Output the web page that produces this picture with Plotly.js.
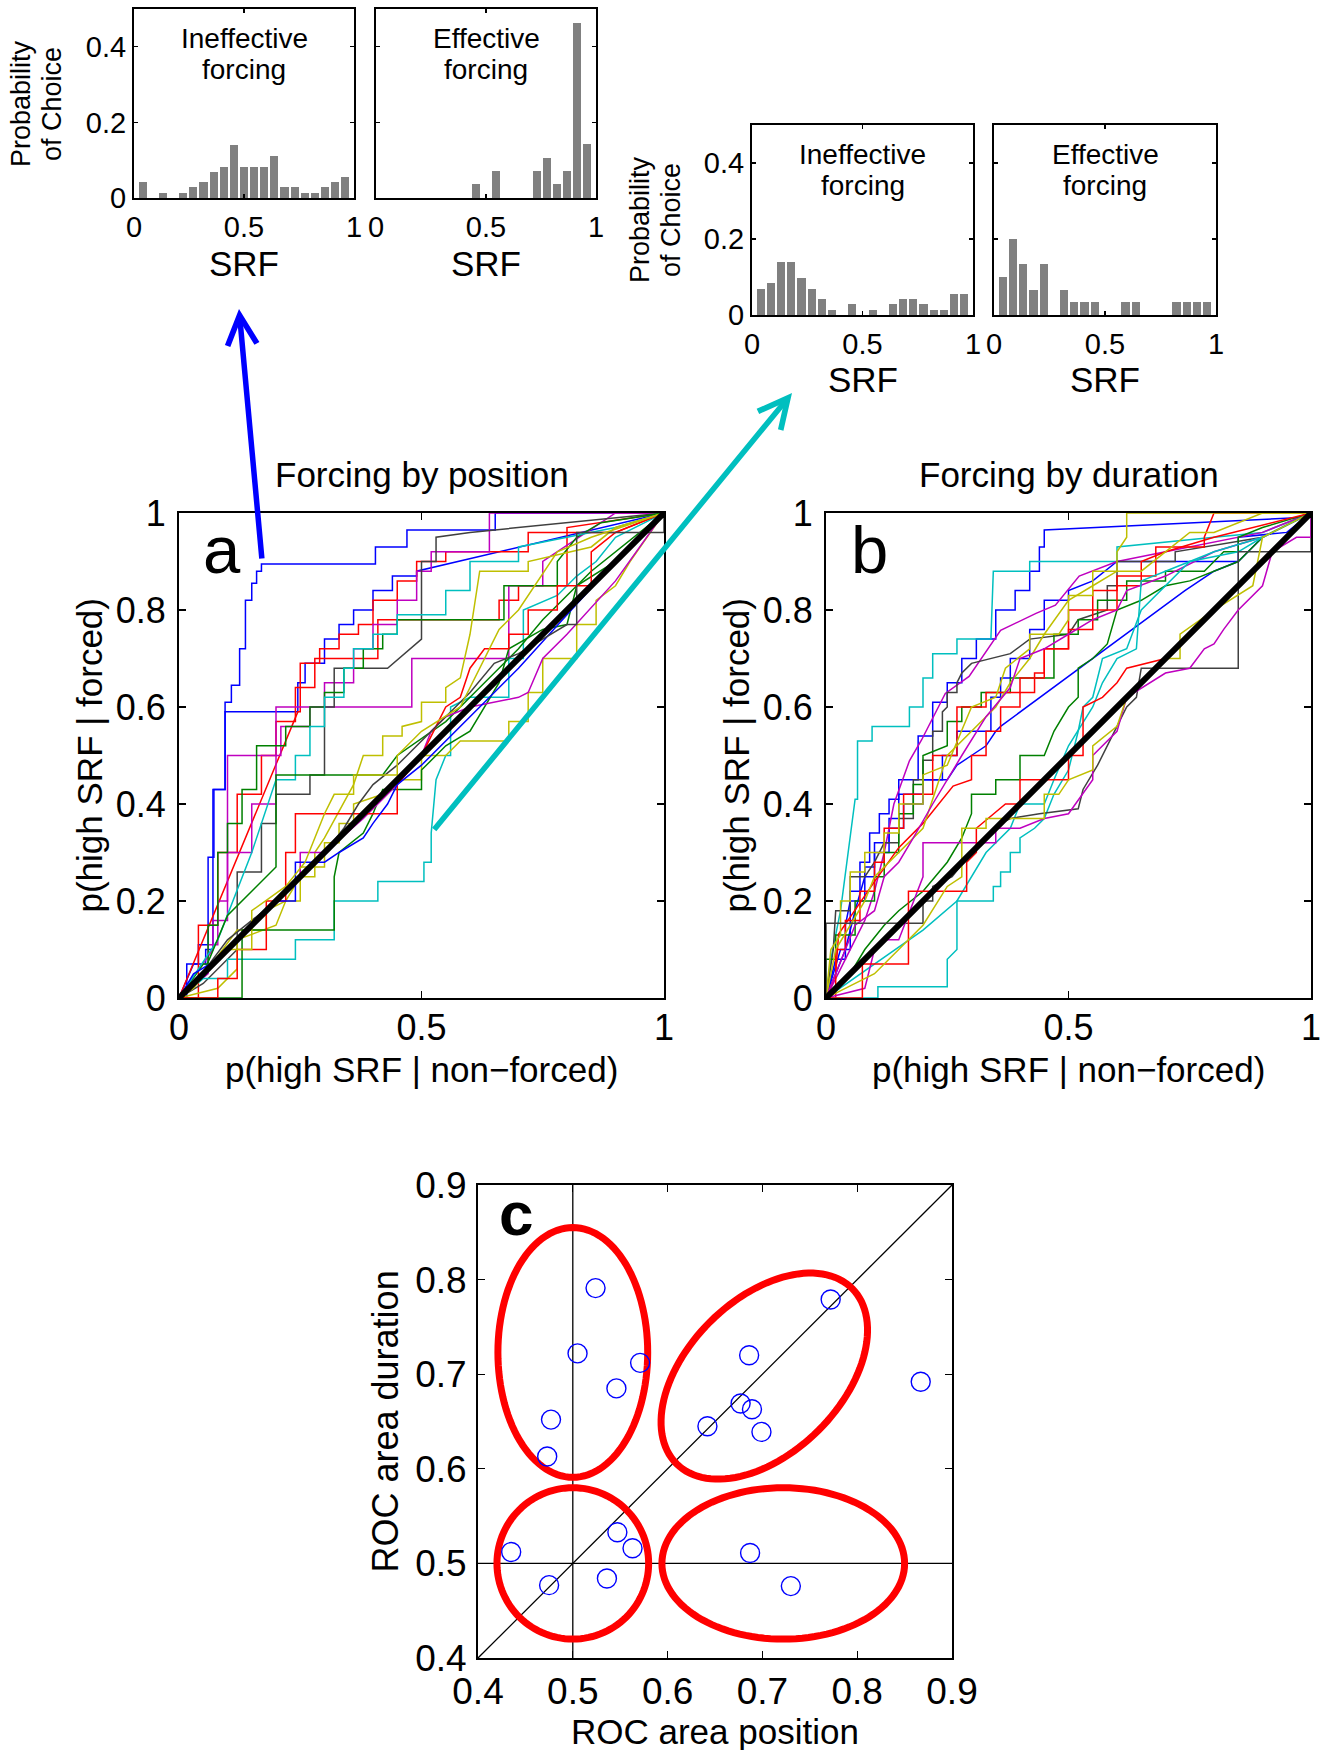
<!DOCTYPE html>
<html><head><meta charset="utf-8">
<script src="https://cdn.plot.ly/plotly-3.0.1.min.js"></script>
<style>html,body{margin:0;padding:0;background:#fff;}#fig{width:1321px;height:1750px;}</style>
</head><body><div id="fig"></div>
<script>
// ---------------- DATA ----------------
// histogram bin centres (SRF)
const binCenters = [0.040,0.086,0.132,0.178,0.224,0.270,0.316,0.362,0.408,0.454,0.500,0.546,0.592,0.638,0.684,0.730,0.776,0.822,0.868,0.914,0.960];
// probability of choice per bin
const posIneffective = [0.042,0,0.014,0,0.014,0.028,0.042,0.069,0.083,0.139,0.083,0.083,0.083,0.111,0.028,0.028,0.014,0.014,0.028,0.042,0.056];
const posEffective   = [0,0,0,0,0,0,0,0,0,0.036,0,0.071,0,0,0,0.071,0.107,0.036,0.071,0.464,0.143];
const durIneffective = [0.069,0.083,0.139,0.139,0.097,0.069,0.042,0.014,0,0.028,0,0.014,0,0.028,0.042,0.042,0.028,0.014,0.014,0.056,0.056];
const durEffective   = [0.100,0.200,0.133,0.067,0.133,0,0.067,0.033,0.033,0.033,0,0,0.033,0.033,0,0,0,0.033,0.033,0.033,0.033];
const histXTicks = [0,0.5,1], histXText = ['0','0.5','1'];
const histYTicks = [0,0.2,0.4], histYText = ['0','0.2','0.4'];

// ROC curves, forcing by position (flat x,y pairs)
const posCurves = [
 [0,0,0.016,0,0.016,0.07,0.04,0.07,0.04,0.11,0.06,0.11,0.06,0.29,0.072,0.29,0.072,0.43,0.095,0.43,0.095,0.61,0.108,0.61,0.108,0.645,0.125,0.645,0.125,0.72,0.137,0.72,0.137,0.82,0.15,0.82,0.15,0.855,0.16,0.855,0.16,0.88,0.17,0.88,0.17,0.895,0.405,0.895,0.405,0.93,0.47,0.93,0.47,0.965,0.652,0.965,0.652,1,1,1],
 [0,0,0.03,0.07,0.055,0.07,0.055,0.1,0.07,0.1,0.07,0.43,0.095,0.43,0.095,0.59,0.245,0.59,0.245,0.65,0.26,0.65,0.26,0.69,0.3,0.69,0.3,0.74,0.33,0.74,0.33,0.77,0.36,0.77,0.36,0.8,0.4,0.8,0.4,0.84,0.44,0.84,0.44,0.87,0.49,0.87,0.49,0.88,1,1],
 [0,0,0.245,0.59,0.25,0.59,0.25,0.69,0.29,0.69,0.29,0.72,0.33,0.72,0.33,0.75,0.37,0.75,0.37,0.77,0.4,0.77,0.4,0.82,0.45,0.82,0.45,0.86,0.49,0.86,0.49,0.9,0.55,0.9,0.55,0.92,0.72,0.92,0.72,0.96,0.9,0.96,1,1],
 [0,0,0.04,0,0.04,0.15,0.08,0.15,0.08,0.3,0.12,0.3,0.12,0.42,0.17,0.42,0.17,0.5,0.2,0.5,0.2,0.57,0.24,0.57,0.24,0.64,0.28,0.64,0.28,0.7,0.41,0.7,0.41,0.78,0.66,0.78,0.66,0.82,0.7,0.82,0.7,0.85,0.8,0.85,0.8,0.97,1,1],
 [0,0,0.06,0.05,0.06,0.11,0.08,0.11,0.08,0.2,0.1,0.2,0.1,0.5,0.2,0.5,0.2,0.6,0.48,0.6,0.48,0.7,0.68,0.7,0.68,0.85,0.75,0.85,0.75,0.9,0.9,1,1,1],
 [0,0,0.07,0.1,0.07,0.16,0.1,0.16,0.1,0.3,0.15,0.3,0.15,0.4,0.2,0.4,0.2,0.5,0.21,0.5,0.21,0.56,0.27,0.56,0.27,0.6,0.3,0.6,0.3,0.65,0.36,0.65,0.36,0.72,0.4,0.72,0.4,0.77,0.45,0.77,0.45,0.82,0.49,0.82,0.49,0.88,0.52,0.88,0.52,0.92,0.64,0.92,0.64,1,1,1],
 [0,0,0.05,0.03,0.12,0.1,0.12,0.26,0.17,0.26,0.17,0.36,0.2,0.36,0.2,0.42,0.27,0.42,0.27,0.46,0.3,0.46,0.3,0.6,0.32,0.6,0.32,0.68,0.43,0.68,0.5,0.74,0.5,0.9,0.53,0.9,0.53,0.95,0.6,0.96,1,1],
 [0,0,0.05,0.07,0.06,0.07,0.06,0.15,0.08,0.15,0.08,0.3,0.1,0.3,0.1,0.36,0.13,0.36,0.13,0.43,0.16,0.43,0.16,0.52,0.22,0.52,0.22,0.56,0.27,0.56,0.27,0.6,0.3,0.6,0.3,0.63,0.34,0.63,0.34,0.68,0.38,0.68,0.38,0.72,0.42,0.72,0.42,0.75,0.45,0.75,0.45,0.78,0.67,0.78,0.67,0.85,0.78,0.85,0.78,0.9,0.82,0.95,0.87,0.98,1,1],
 [0,0,0.08,0.12,0.15,0.3,0.2,0.45,0.24,0.45,0.24,0.5,0.27,0.5,0.27,0.56,0.3,0.56,0.3,0.62,0.34,0.62,0.34,0.68,0.36,0.68,0.36,0.72,0.4,0.72,0.4,0.75,0.45,0.75,0.45,0.79,0.55,0.79,0.55,0.84,0.6,0.84,0.6,0.9,0.7,0.9,0.7,0.93,0.9,0.97,1,1],
 [0,0,0.05,0.04,0.1,0.04,0.1,0.08,0.24,0.08,0.24,0.12,0.32,0.12,0.32,0.2,0.41,0.2,0.41,0.24,0.505,0.24,0.505,0.28,0.52,0.28,0.52,0.34,0.53,0.45,0.55,0.5,0.56,0.5,0.56,0.6,0.6,0.62,0.68,0.62,0.68,0.7,0.71,0.7,0.71,0.8,0.78,0.83,0.82,0.87,0.86,0.9,0.9,0.95,1,1],
 [0,0,0.08,0.02,0.12,0.06,0.12,0.12,0.2,0.15,0.22,0.2,0.25,0.2,0.25,0.27,0.3,0.27,0.3,0.32,0.33,0.32,0.33,0.36,0.36,0.36,0.36,0.4,0.42,0.42,0.45,0.45,0.5,0.45,0.5,0.5,0.55,0.5,0.58,0.53,0.68,0.53,0.68,0.57,0.72,0.57,0.72,0.63,0.75,0.63,0.75,0.7,0.82,0.7,0.82,0.77,0.86,0.77,0.86,0.82,0.9,0.85,0.93,0.9,1,1],
 [0,0,0.03,0.02,0.09,0.1,0.12,0.14,0.18,0.14,0.18,0.18,0.22,0.2,0.25,0.25,0.28,0.25,0.28,0.3,0.3,0.33,0.36,0.44,0.38,0.5,0.42,0.5,0.42,0.54,0.46,0.54,0.46,0.56,0.5,0.57,0.5,0.61,0.55,0.61,0.55,0.64,0.58,0.66,0.6,0.75,0.62,0.88,0.72,0.88,0.72,0.9,0.85,0.93,0.9,0.97,1,1],
 [0,0,0.13,0,0.13,0.14,0.32,0.14,0.32,0.25,0.33,0.3,0.38,0.34,0.4,0.38,0.42,0.43,0.5,0.43,0.5,0.47,0.55,0.52,0.6,0.55,0.63,0.6,0.66,0.65,0.68,0.72,0.75,0.76,0.8,0.77,0.82,0.85,0.9,0.9,1,1],
 [0,0,0.05,0.05,0.1,0.17,0.2,0.27,0.2,0.46,0.42,0.46,0.45,0.5,0.55,0.57,0.6,0.62,0.7,0.72,0.75,0.78,0.85,0.88,1,1],
 [0,0,0.04,0.04,0.1,0.1,0.18,0.18,0.25,0.25,0.25,0.3,0.3,0.3,0.38,0.37,0.45,0.44,0.5,0.5,0.52,0.55,0.55,0.58,0.6,0.6,0.7,0.62,0.72,0.63,0.75,0.7,0.8,0.75,0.9,0.86,1,1],
 [0,0,0.08,0,0.08,0.04,0.12,0.04,0.12,0.1,0.18,0.1,0.18,0.2,0.22,0.2,0.22,0.3,0.24,0.3,0.24,0.38,0.45,0.38,0.45,0.44,0.5,0.5,0.53,0.56,0.55,0.6,0.58,0.62,0.6,0.68,0.63,0.72,0.68,0.72,0.68,0.75,0.72,0.75,0.72,0.8,0.78,0.8,0.78,0.85,0.85,0.85,0.85,0.92,0.9,0.96,1,1],
 [0,0,0.03,0.05,0.08,0.08,0.12,0.12,0.15,0.15,0.2,0.2,0.24,0.2,0.24,0.28,0.3,0.28,0.33,0.3,0.38,0.33,0.4,0.36,0.43,0.4,0.45,0.44,0.5,0.48,0.55,0.53,0.6,0.58,0.7,0.68,0.8,0.79,0.9,0.9,1,1],
 [0,0,0.04,0.04,0.1,0.12,0.15,0.16,0.2,0.2,0.26,0.26,0.3,0.3,0.34,0.35,0.37,0.4,0.4,0.44,0.45,0.48,0.5,0.53,0.55,0.58,0.6,0.63,0.65,0.69,0.7,0.71,0.8,0.77,0.82,0.77,0.82,0.96,1,0.96,1,1],
 [0,0,0.06,0.06,0.1,0.1,0.15,0.1,0.15,0.18,0.22,0.23,0.26,0.28,0.28,0.33,0.3,0.38,0.32,0.42,0.36,0.42,0.36,0.46,0.45,0.46,0.45,0.5,0.5,0.55,0.58,0.6,0.62,0.68,0.66,0.76,0.7,0.8,0.78,0.92,0.85,0.95,1,1]
];
const posCurveColors = ['b','b','r','r','m','m','k','g','c','c','y','y','g','g','m','r','b','k','y'];

// ROC curves, forcing by duration
const durCurves = [
 [0,0,0.02,0.08,0.04,0.08,0.04,0.15,0.05,0.2,0.05,0.22,0.07,0.22,0.07,0.28,0.09,0.28,0.09,0.34,0.11,0.34,0.11,0.38,0.13,0.38,0.13,0.41,0.15,0.41,0.15,0.45,0.19,0.45,0.19,0.54,0.22,0.54,0.22,0.61,0.25,0.61,0.25,0.65,0.28,0.65,0.28,0.7,0.31,0.7,0.31,0.74,0.35,0.74,0.35,0.8,0.39,0.8,0.39,0.84,0.42,0.84,0.42,0.88,0.44,0.88,0.44,0.93,0.45,0.93,0.45,0.965,0.97,0.99,1,1],
 [0,0,0.01,0.08,0.03,0.18,0.045,0.3,0.06,0.41,0.065,0.41,0.065,0.53,0.095,0.53,0.095,0.56,0.172,0.56,0.172,0.6,0.2,0.6,0.2,0.66,0.22,0.66,0.22,0.71,0.27,0.71,0.27,0.74,0.34,0.74,0.345,0.88,0.42,0.88,0.42,0.9,0.6,0.9,0.6,0.93,0.8,0.95,0.9,0.96,1,1],
 [0,0,0.02,0.05,0.04,0.1,0.06,0.18,0.08,0.25,0.1,0.25,0.1,0.32,0.13,0.32,0.13,0.37,0.15,0.37,0.15,0.42,0.2,0.42,0.2,0.45,0.25,0.45,0.27,0.48,0.3,0.5,0.33,0.52,0.35,0.55,0.36,0.56,0.74,0.84,0.8,0.88,0.85,0.9,0.9,0.95,1,1],
 [0,0,0.03,0.1,0.05,0.1,0.05,0.2,0.08,0.2,0.08,0.27,0.1,0.27,0.1,0.3,0.13,0.3,0.13,0.35,0.16,0.35,0.16,0.4,0.2,0.4,0.2,0.45,0.24,0.45,0.24,0.5,0.27,0.5,0.27,0.55,0.34,0.55,0.34,0.62,0.36,0.62,0.36,0.66,0.38,0.66,0.38,0.7,0.42,0.7,0.42,0.76,0.45,0.76,0.45,0.82,0.5,0.82,0.5,0.84,0.55,0.86,0.6,0.9,0.85,0.9,0.85,0.95,0.95,0.96,1,1],
 [0,0,0.02,0.04,0.05,0.1,0.08,0.16,0.1,0.22,0.12,0.3,0.14,0.4,0.172,0.489,0.197,0.532,0.246,0.628,0.295,0.663,0.36,0.758,0.433,0.793,0.473,0.81,0.522,0.87,0.6,0.9,0.7,0.92,0.8,0.94,0.9,0.96,1,1],
 [0,0,0.015,0.1,0.02,0.18,0.05,0.18,0.05,0.25,0.08,0.25,0.1,0.28,0.12,0.32,0.15,0.32,0.15,0.37,0.18,0.37,0.18,0.45,0.2,0.45,0.2,0.49,0.22,0.49,0.22,0.55,0.24,0.55,0.24,0.59,0.25,0.6,0.25,0.63,0.27,0.63,0.27,0.65,0.28,0.67,0.3,0.69,0.38,0.71,0.42,0.74,0.5,0.75,0.52,0.78,0.58,0.8,0.58,0.85,0.6,0.85,0.6,0.9,0.72,0.9,0.72,0.92,0.9,0.95,1,1],
 [0,0,0,0.08,0.02,0.08,0.02,0.13,0.06,0.13,0.06,0.2,0.1,0.2,0.1,0.25,0.12,0.25,0.12,0.3,0.15,0.3,0.15,0.38,0.18,0.38,0.18,0.44,0.2,0.44,0.2,0.5,0.25,0.52,0.25,0.57,0.28,0.57,0.28,0.6,0.32,0.6,0.32,0.63,0.38,0.63,0.38,0.66,0.47,0.66,0.47,0.75,0.52,0.75,0.52,0.78,0.56,0.78,0.56,0.82,0.62,0.82,0.62,0.86,0.7,0.86,0.7,0.88,0.78,0.88,0.82,0.92,0.85,0.92,0.85,0.95,0.9,0.97,1,1],
 [0,0,0.02,0.02,0.05,0.05,0.08,0.1,0.12,0.15,0.15,0.18,0.2,0.22,0.25,0.28,0.28,0.33,0.3,0.38,0.3,0.42,0.35,0.42,0.35,0.45,0.4,0.45,0.4,0.5,0.45,0.5,0.47,0.55,0.5,0.6,0.52,0.62,0.52,0.68,0.55,0.7,0.58,0.73,0.6,0.8,0.65,0.82,0.7,0.85,0.75,0.86,0.8,0.88,0.85,0.9,0.9,0.95,1,1],
 [0,0,0.02,0.05,0.026,0.132,0.1,0.24,0.15,0.31,0.2,0.36,0.262,0.437,0.3,0.45,0.3,0.5,0.33,0.5,0.33,0.55,0.36,0.55,0.36,0.6,0.4,0.6,0.4,0.63,0.43,0.63,0.43,0.67,0.45,0.67,0.45,0.72,0.5,0.72,0.5,0.76,0.55,0.76,0.55,0.8,0.6,0.8,0.6,0.85,0.65,0.85,0.65,0.9,0.7,0.92,0.8,0.95,1,1],
 [0,0,0.02,0,0.02,0.1,0.04,0.1,0.04,0.16,0.07,0.16,0.07,0.22,0.1,0.22,0.1,0.28,0.12,0.28,0.12,0.35,0.16,0.35,0.16,0.42,0.22,0.42,0.22,0.5,0.27,0.5,0.27,0.6,0.33,0.6,0.33,0.63,0.4,0.63,0.4,0.66,0.45,0.66,0.45,0.72,0.5,0.72,0.5,0.8,0.55,0.8,0.55,0.84,0.6,0.84,0.6,0.87,0.68,0.87,0.68,0.93,0.78,0.93,0.78,0.95,0.8,1,1,1],
 [0,0,0.01,0.1,0.03,0.13,0.03,0.2,0.05,0.2,0.05,0.26,0.08,0.26,0.08,0.3,0.12,0.3,0.12,0.34,0.15,0.34,0.15,0.4,0.2,0.4,0.2,0.46,0.25,0.48,0.28,0.55,0.3,0.6,0.35,0.62,0.37,0.68,0.42,0.72,0.42,0.75,0.48,0.75,0.5,0.78,0.5,0.83,0.55,0.83,0.55,0.88,0.6,0.88,0.6,0.92,0.62,0.95,0.62,1,1,1],
 [0,0,0.02,0.1,0.05,0.15,0.08,0.2,0.1,0.25,0.12,0.27,0.15,0.3,0.2,0.35,0.25,0.5,0.3,0.55,0.35,0.6,0.38,0.65,0.42,0.7,0.45,0.75,0.5,0.82,0.55,0.85,0.6,0.88,0.65,0.88,0.7,0.92,0.75,0.96,0.8,0.96,0.85,0.98,0.9,1,1,1],
 [0,0,0.04,0.1,0.06,0.15,0.1,0.18,0.12,0.25,0.15,0.28,0.18,0.33,0.22,0.4,0.28,0.5,0.33,0.58,0.38,0.64,0.4,0.7,0.45,0.72,0.5,0.75,0.55,0.78,0.6,0.8,0.62,0.84,0.7,0.87,0.8,0.92,0.9,0.95,1,1],
 [0,0,0.107,0,0.107,0.023,0.25,0.023,0.25,0.08,0.27,0.1,0.27,0.2,0.345,0.2,0.345,0.23,0.36,0.23,0.36,0.26,0.38,0.26,0.38,0.3,0.4,0.3,0.4,0.33,0.43,0.35,0.45,0.37,0.47,0.42,0.5,0.47,0.52,0.55,0.53,0.6,0.55,0.62,0.57,0.7,0.62,0.72,0.65,0.8,0.7,0.85,0.75,0.9,0.85,0.92,0.9,0.95,1,1],
 [0,0,0.1,0.07,0.2,0.14,0.27,0.2,0.3,0.25,0.33,0.3,0.38,0.35,0.4,0.4,0.45,0.4,0.47,0.45,0.5,0.52,0.55,0.6,0.57,0.65,0.6,0.7,0.64,0.72,0.65,0.86,0.7,0.88,0.8,0.92,0.9,0.95,1,1],
 [0,0,0,0.154,0.2,0.154,0.2,0.2,0.22,0.2,0.22,0.23,0.26,0.25,0.3,0.3,0.32,0.32,0.34,0.34,0.36,0.36,0.38,0.37,0.44,0.38,0.52,0.39,0.53,0.43,0.56,0.48,0.58,0.52,0.6,0.56,0.62,0.6,0.64,0.62,0.65,0.68,0.85,0.68,0.85,0.92,1,0.92,1,1],
 [0,0,0.08,0.02,0.1,0.1,0.12,0.12,0.15,0.12,0.18,0.2,0.2,0.25,0.2,0.32,0.35,0.32,0.35,0.35,0.4,0.35,0.45,0.37,0.5,0.38,0.55,0.45,0.55,0.5,0.6,0.55,0.62,0.62,0.7,0.67,0.75,0.68,0.78,0.72,0.8,0.73,0.82,0.76,0.85,0.8,0.9,0.85,0.92,0.92,0.97,0.95,1,0.95,1,1],
 [0,0,0.075,0,0.075,0.07,0.17,0.07,0.17,0.22,0.29,0.22,0.29,0.28,0.31,0.3,0.31,0.35,0.37,0.4,0.4,0.4,0.4,0.45,0.5,0.45,0.5,0.5,0.53,0.5,0.53,0.6,0.57,0.62,0.6,0.65,0.62,0.68,0.7,0.7,0.77,0.77,0.8,0.8,0.85,0.85,0.9,0.9,1,1],
 [0,0,0.1,0.05,0.2,0.15,0.25,0.23,0.28,0.25,0.28,0.35,0.33,0.35,0.33,0.37,0.45,0.37,0.45,0.42,0.48,0.42,0.5,0.45,0.55,0.47,0.55,0.52,0.6,0.56,0.62,0.62,0.7,0.7,0.73,0.7,0.73,0.75,0.8,0.8,0.88,0.85,0.9,0.95,1,1]
];
const durCurveColors = ['b','c','b','b','m','k','g','g','r','r','y','y','m','c','c','k','m','r','y'];
const chanceLine = [0,1];
const rocXTicks = [0,0.5,1], rocXText = ['0','0.5','1'];
const rocYTicks = [0,0.2,0.4,0.6,0.8,1], rocYText = ['0','0.2','0.4','0.6','0.8','1'];

// panel c: ROC areas per cell
const rocAreaPosition = [0.524,0.505,0.571,0.546,0.477,0.473,0.772,0.686,0.867,0.677,0.689,0.642,0.699,0.547,0.563,0.435,0.687,0.536,0.475,0.730];
const rocAreaDuration = [0.791,0.722,0.712,0.685,0.652,0.613,0.779,0.720,0.692,0.669,0.663,0.645,0.639,0.533,0.516,0.512,0.511,0.484,0.477,0.476];
const cTicks = [0.4,0.5,0.6,0.7,0.8,0.9], cText = ['0.4','0.5','0.6','0.7','0.8','0.9'];
const cRefLevel = 0.5;
const cDiag = [0.4,0.9];
// group ellipses: centre, semi-axes, rotation (deg)
const ellCx = [0.500,0.500,0.722,0.702];
const ellCy = [0.723,0.500,0.500,0.698];
const ellRx = [0.079,0.080,0.128,0.131];
const ellRy = [0.132,0.080,0.080,0.081];
const ellAngle = [0,0,0,45];

// ---------------- LAYOUT HELPERS ----------------
const W = 1321, H = 1750;
const FONT = 'Liberation Sans, Arial, Helvetica, sans-serif';
const COL = {b:'#0000ff', g:'#008000', r:'#ff0000', c:'#00bfbf', m:'#bf00bf', y:'#bfbf00', k:'#404040'};
const px = v => v / W, py = v => 1 - v / H;

const boxes = {
  h1:[134,354,9,198], h2:[376,596,9,198], h3:[752,973,125,315], h4:[994,1216,125,315],
  a:[179,664,513,998], b:[826,1311,513,998], c:[478,952,1185,1658]
};
const order = ['h1','h2','h3','h4','a','b','c'];
// tick font size, tick length, x label standoff, y label standoff
const axStyle = {
  h:{fs:29, len:4, sx:2, sy:0},
  p:{fs:36, len:7, sx:-3, sy:4},
  c:{fs:37, len:7, sx:0, sy:2}
};

function axisBase(size, len, standoff){
  return {showline:true, linecolor:'#000', linewidth:2, mirror:'ticks', ticks:'inside', ticklen:len,
    tickwidth:1.3, tickcolor:'#000', showgrid:false, zeroline:false, fixedrange:true,
    tickfont:{family:FONT, size:size, color:'#000'}, ticklabelstandoff:standoff, tickmode:'array',
    ticklabeloverflow:'allow'};
}

const layout = {
  width:W, height:H, margin:{l:0,r:0,t:0,b:0}, paper_bgcolor:'#fff', plot_bgcolor:'#fff',
  showlegend:false, font:{family:FONT, color:'#000'}, annotations:[], shapes:[], bargap:0
};

order.forEach((k,i)=>{
  const n = i+1, xs = n===1?'':String(n);
  const bx = boxes[k];
  const isHist = k[0]==='h', isC = k==='c';
  const st = isHist ? axStyle.h : (isC ? axStyle.c : axStyle.p);
  const xa = Object.assign(axisBase(st.fs, st.len, st.sx), {
    domain:[px(bx[0]), px(bx[1])], anchor:'y'+xs,
    range: isC ? [0.4,0.9] : [0,1],
    tickvals: isHist ? histXTicks : (isC ? cTicks : rocXTicks),
    ticktext: isHist ? histXText : (isC ? cText : rocXText)
  });
  const ya = Object.assign(axisBase(st.fs, st.len, st.sy), {
    domain:[py(bx[3]), py(bx[2])], anchor:'x'+xs,
    range: isHist ? [0,0.5] : (isC ? [0.4,0.9] : [0,1]),
    tickvals: isHist ? histYTicks : (isC ? cTicks : rocYTicks),
    ticktext: isHist ? histYText : (isC ? cText : rocYText),
    showticklabels: !(k==='h2' || k==='h4')
  });
  layout['xaxis'+xs] = xa;
  layout['yaxis'+xs] = ya;
});

// ---------------- TRACES ----------------
const traces = [];
[[posIneffective,''],[posEffective,'2'],[durIneffective,'3'],[durEffective,'4']].forEach(([vals,s])=>{
  traces.push({type:'bar', x:binCenters, y:vals, width:0.037, xaxis:'x'+s, yaxis:'y'+s,
    marker:{color:'#808080', line:{width:0}}, hoverinfo:'skip'});
});
function addCurves(curves, colors, s){
  curves.forEach((c,i)=>{
    const x=[], y=[];
    for(let j=0;j<c.length;j+=2){ x.push(c[j]); y.push(c[j+1]); }
    traces.push({type:'scatter', mode:'lines', x:x, y:y, xaxis:'x'+s, yaxis:'y'+s,
      line:{color:COL[colors[i]], width:1.5}, hoverinfo:'skip'});
  });
  traces.push({type:'scatter', mode:'lines', x:chanceLine, y:chanceLine, xaxis:'x'+s, yaxis:'y'+s,
    line:{color:'#000', width:6}, hoverinfo:'skip'});
}
addCurves(posCurves, posCurveColors, '5');
addCurves(durCurves, durCurveColors, '6');
traces.push({type:'scatter', mode:'markers', x:rocAreaPosition, y:rocAreaDuration, xaxis:'x7', yaxis:'y7',
  marker:{symbol:'circle-open', size:19, color:'#0000ff', line:{width:1.4, color:'#0000ff'}}, hoverinfo:'skip'});

// ---------------- SHAPES (panel c) ----------------
const thin = {color:'#000', width:1.3};
layout.shapes.push({type:'line', xref:'x7', yref:'y7', x0:cRefLevel, x1:cRefLevel, y0:cDiag[0], y1:cDiag[1], line:thin, layer:'below'});
layout.shapes.push({type:'line', xref:'x7', yref:'y7', x0:cDiag[0], x1:cDiag[1], y0:cRefLevel, y1:cRefLevel, line:thin, layer:'below'});
layout.shapes.push({type:'line', xref:'x7', yref:'y7', x0:cDiag[0], x1:cDiag[1], y0:cDiag[0], y1:cDiag[1], line:thin, layer:'below'});
function ellipsePath(cx, cy, rx, ry, ang){
  const t = ang*Math.PI/180, n = 120; let d = '';
  for(let i=0;i<=n;i++){
    const th = 2*Math.PI*i/n, ex = rx*Math.cos(th), ey = ry*Math.sin(th);
    const x = cx + ex*Math.cos(t) - ey*Math.sin(t), y = cy + ex*Math.sin(t) + ey*Math.cos(t);
    d += (i ? 'L' : 'M') + x.toFixed(5) + ',' + y.toFixed(5);
  }
  return d + 'Z';
}
ellCx.forEach((cx,i)=>{
  layout.shapes.push({type:'path', xref:'x7', yref:'y7', path:ellipsePath(cx, ellCy[i], ellRx[i], ellRy[i], ellAngle[i]),
    line:{color:'#ff0000', width:7}, layer:'below'});
});

// ---------------- ANNOTATIONS ----------------
function txt(t, x, y, size, opt){
  layout.annotations.push(Object.assign({text:t, x:px(x), y:py(y), xref:'paper', yref:'paper',
    xanchor:'center', yanchor:'middle', showarrow:false, font:{family:FONT, size:size, color:'#000'}}, opt||{}));
}
// histogram labels
txt('Ineffective',244,39,28); txt('forcing',244,69,28);
txt('Effective',486,39,28);   txt('forcing',486,69,28);
txt('Ineffective',862.5,155,28); txt('forcing',862.5,185,28);
txt('Effective',1105,155,28);    txt('forcing',1105,185,28);
txt('Probability',21,104,27,{textangle:-90}); txt('of Choice',52,104,27,{textangle:-90});
txt('Probability',640,220,27,{textangle:-90}); txt('of Choice',671,220,27,{textangle:-90});
txt('SRF',244,264,35); txt('SRF',486,264,35); txt('SRF',862.5,380,35); txt('SRF',1105,380,35);
// panels a, b
txt('Forcing by position',421.5,474,35); txt('Forcing by duration',1068.5,474,35);
txt('p(high SRF | non\u2212forced)',421.5,1069,35); txt('p(high SRF | non\u2212forced)',1068.5,1069,35);
txt('p(high SRF | forced)',89,755.5,35,{textangle:-90}); txt('p(high SRF | forced)',736,755.5,35,{textangle:-90});
txt('a',222,549,67); txt('b',869,549,67);
// panel c
txt('<b>c</b>',516,1213,62);
txt('ROC area position',715,1731,35);
txt('ROC area duration',385,1421.5,36,{textangle:-90});
// arrows
function arrow(tipX, tipY, tailX, tailY, color){
  layout.annotations.push({text:'', x:px(tipX), y:py(tipY), xref:'paper', yref:'paper',
    ax:tailX-tipX, ay:tailY-tipY, showarrow:true, arrowhead:5, arrowsize:1.05, arrowwidth:5.5, arrowcolor:color});
}
arrow(239,309,262,560,'#0000ff');
arrow(792,393,433,831,'#00bfbf');

Plotly.newPlot('fig', traces, layout, {staticPlot:true, displayModeBar:false});
</script></body></html>
